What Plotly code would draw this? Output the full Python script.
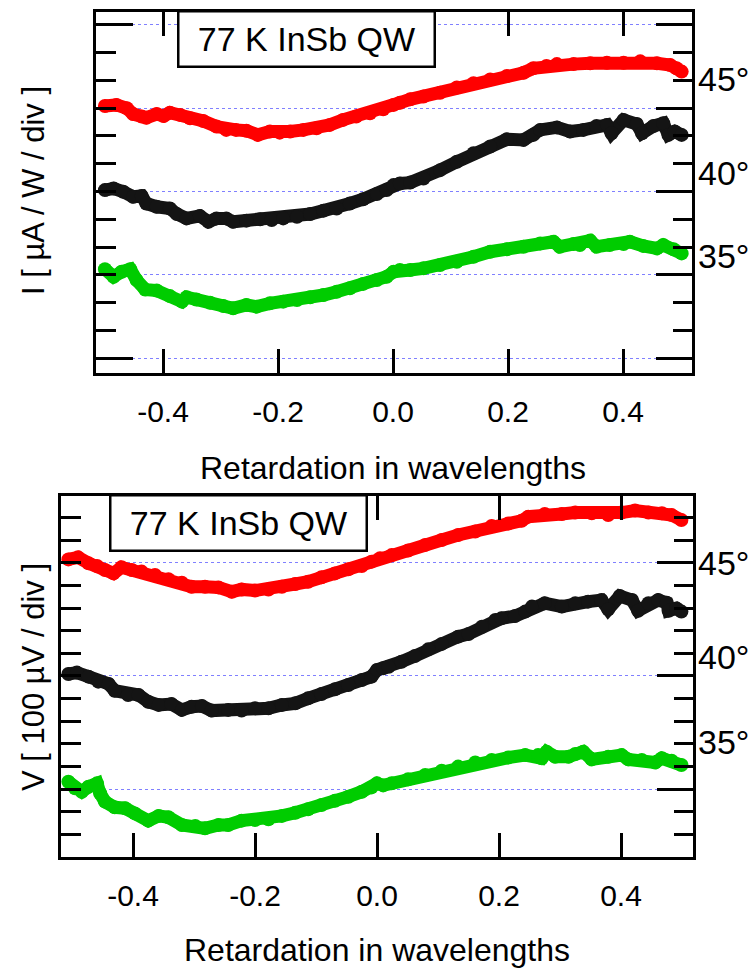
import plotly.graph_objects as go

# ---------------- data: retardation (wavelengths) vs signal (divisions) ----------------
# upper panel: photocurrent, I [uA / W / div]
i45_x = [-0.501, -0.481, -0.463, -0.452, -0.437, -0.429, -0.411, -0.399, -0.388, -0.370,
         -0.353, -0.330, -0.307, -0.290, -0.273, -0.255, -0.235, -0.214, -0.197, -0.179,
         -0.156, -0.133, -0.110, -0.087, -0.064, -0.040, -0.017, 0.001, 0.012, 0.030,
         0.053, 0.082, 0.111, 0.140, 0.169, 0.198, 0.227, 0.244, 0.267, 0.285,
         0.314, 0.343, 0.372, 0.401, 0.430, 0.459, 0.482, 0.493, 0.502]
i45_y = [9.08, 9.12, 9.00, 8.79, 8.70, 8.66, 8.79, 8.72, 8.84, 8.76,
         8.64, 8.54, 8.34, 8.22, 8.22, 8.19, 8.04, 8.16, 8.12, 8.16,
         8.22, 8.28, 8.40, 8.58, 8.70, 8.82, 8.96, 9.12, 9.20, 9.32,
         9.42, 9.56, 9.75, 9.90, 10.04, 10.16, 10.28, 10.44, 10.52, 10.59,
         10.59, 10.62, 10.64, 10.64, 10.69, 10.62, 10.56, 10.44, 10.32]

i40_x = [-0.501, -0.486, -0.469, -0.452, -0.437, -0.429, -0.411, -0.388, -0.376, -0.359,
         -0.336, -0.321, -0.307, -0.290, -0.278, -0.255, -0.231, -0.211, -0.191, -0.167,
         -0.144, -0.121, -0.098, -0.075, -0.052, -0.028, -0.011, 0.001, 0.012, 0.030,
         0.053, 0.082, 0.111, 0.140, 0.169, 0.198, 0.227, 0.244, 0.256, 0.285,
         0.308, 0.331, 0.354, 0.372, 0.380, 0.401, 0.424, 0.433, 0.453, 0.470,
         0.479, 0.490, 0.502]
i40_y = [6.05, 6.11, 5.99, 5.81, 5.84, 5.57, 5.45, 5.39, 5.19, 5.03,
         5.12, 4.91, 5.03, 5.03, 4.91, 4.95, 5.00, 4.97, 5.03, 5.09,
         5.19, 5.31, 5.39, 5.57, 5.72, 5.91, 6.05, 6.23, 6.29, 6.32,
         6.47, 6.77, 7.07, 7.38, 7.62, 7.88, 7.86, 8.04, 8.22, 8.31,
         8.16, 8.22, 8.36, 8.40, 8.10, 8.58, 8.43, 8.10, 8.36, 8.46,
         8.04, 8.16, 8.04]

i35_x = [-0.501, -0.486, -0.472, -0.457, -0.446, -0.431, -0.411, -0.388, -0.367, -0.359,
         -0.342, -0.318, -0.295, -0.278, -0.255, -0.237, -0.214, -0.191, -0.167, -0.144,
         -0.121, -0.098, -0.075, -0.052, -0.028, -0.011, 0.001, 0.012, 0.030, 0.053,
         0.082, 0.111, 0.140, 0.169, 0.198, 0.227, 0.256, 0.279, 0.290, 0.314,
         0.325, 0.343, 0.354, 0.377, 0.401, 0.412, 0.435, 0.459, 0.470, 0.488, 0.502]
i35_y = [3.20, 2.93, 3.11, 3.20, 2.81, 2.47, 2.43, 2.23, 2.03, 2.19,
         2.11, 1.99, 1.87, 1.79, 1.91, 1.85, 1.97, 2.03, 2.09, 2.19,
         2.27, 2.39, 2.51, 2.67, 2.81, 2.93, 3.11, 3.17, 3.17, 3.23,
         3.35, 3.47, 3.65, 3.83, 3.92, 4.01, 4.13, 4.19, 4.01, 4.11,
         4.07, 4.23, 4.01, 4.07, 4.11, 4.19, 4.04, 3.95, 4.07, 3.92, 3.77]

# lower panel: photovoltage, V [100 uV / div]
v45_x = [-0.506, -0.490, -0.473, -0.459, -0.446, -0.432, -0.419, -0.402, -0.386, -0.364,
         -0.342, -0.320, -0.304, -0.282, -0.260, -0.238, -0.222, -0.200, -0.178, -0.156,
         -0.134, -0.113, -0.091, -0.069, -0.047, -0.025, -0.009, 0.005, 0.024, 0.051,
         0.079, 0.106, 0.133, 0.161, 0.188, 0.215, 0.237, 0.248, 0.275, 0.303,
         0.325, 0.352, 0.379, 0.401, 0.423, 0.445, 0.467, 0.483, 0.499]
v45_y = [10.16, 10.25, 9.99, 9.87, 9.69, 9.54, 9.81, 9.69, 9.62, 9.47,
         9.28, 9.13, 8.95, 8.95, 8.92, 8.73, 8.83, 8.78, 8.83, 8.95,
         9.07, 9.17, 9.37, 9.54, 9.72, 9.87, 10.06, 10.21, 10.35, 10.55,
         10.80, 11.02, 11.24, 11.39, 11.64, 11.75, 11.87, 12.05, 12.17, 12.17,
         12.23, 12.20, 12.12, 12.23, 12.32, 12.23, 12.20, 12.12, 11.90]

v40_x = [-0.506, -0.492, -0.473, -0.457, -0.440, -0.430, -0.408, -0.391, -0.375, -0.358,
         -0.337, -0.320, -0.304, -0.287, -0.271, -0.244, -0.222, -0.200, -0.178, -0.156,
         -0.134, -0.113, -0.091, -0.069, -0.047, -0.025, -0.009, 0.000, 0.010, 0.019,
         0.040, 0.062, 0.084, 0.106, 0.133, 0.150, 0.172, 0.194, 0.204, 0.226,
         0.243, 0.254, 0.275, 0.303, 0.325, 0.346, 0.368, 0.379, 0.398, 0.418,
         0.428, 0.445, 0.461, 0.475, 0.478, 0.491, 0.499]
v40_y = [5.09, 5.15, 4.97, 4.75, 4.65, 4.35, 4.16, 4.16, 3.86, 3.72,
         3.76, 3.50, 3.64, 3.67, 3.47, 3.50, 3.47, 3.57, 3.57, 3.72,
         3.79, 4.01, 4.20, 4.41, 4.60, 4.82, 4.97, 5.27, 5.34, 5.41,
         5.63, 5.88, 6.18, 6.42, 6.74, 6.86, 7.18, 7.48, 7.55, 7.65,
         7.85, 8.07, 8.22, 8.07, 8.22, 8.29, 8.36, 7.95, 8.54, 8.36,
         7.89, 8.22, 8.36, 8.24, 7.89, 7.99, 7.85]

v35_x = [-0.506, -0.495, -0.484, -0.473, -0.459, -0.454, -0.446, -0.430, -0.413, -0.397,
         -0.375, -0.358, -0.342, -0.320, -0.298, -0.282, -0.260, -0.244, -0.222, -0.200,
         -0.178, -0.156, -0.134, -0.113, -0.091, -0.069, -0.047, -0.025, -0.009, 0.000,
         0.010, 0.024, 0.051, 0.079, 0.106, 0.133, 0.161, 0.188, 0.215, 0.243,
         0.264, 0.270, 0.278, 0.292, 0.314, 0.325, 0.338, 0.352, 0.379, 0.401,
         0.412, 0.434, 0.456, 0.467, 0.483, 0.499]
v35_y = [0.32, 0.03, -0.12, 0.10, 0.25, -0.19, -0.56, -0.81, -0.85, -1.08,
         -1.40, -1.19, -1.25, -1.59, -1.64, -1.74, -1.59, -1.59, -1.40, -1.37,
         -1.34, -1.19, -1.05, -0.90, -0.71, -0.52, -0.34, -0.12, 0.07, 0.25,
         0.16, 0.25, 0.43, 0.62, 0.81, 0.99, 1.17, 1.28, 1.39, 1.50,
         1.50, 1.36, 1.65, 1.43, 1.43, 1.55, 1.65, 1.31, 1.43, 1.50,
         1.31, 1.28, 1.17, 1.36, 1.25, 1.06]

x_tickvals = [-0.4, -0.2, 0.0, 0.2, 0.4]
x_ticktext = ["-0.4", "-0.2", "0.0", "0.2", "0.4"]
angle_labels = ["45°", "40°", "35°"]
series_colors = ["#ff0000", "#141414", "#00cc00"]

# label heights (in panel units) for the angle markers on the right
angle_pos_top = [10.05, 6.68, 3.66]
angle_pos_bottom = [10.02, 5.86, 2.10]

FONT = "Liberation Sans, Arial, Helvetica, sans-serif"
W, H = 750, 972
GRID = "#8080ff"


def px_x(p):
    return p / W


def px_y(p):
    return 1 - p / H


fig = go.Figure()

top_series = [(i45_x, i45_y), (i40_x, i40_y), (i35_x, i35_y)]
bottom_series = [(v45_x, v45_y), (v40_x, v40_y), (v35_x, v35_y)]

for (xs, ys), col in zip(top_series, series_colors):
    fig.add_trace(go.Scatter(x=xs, y=ys, mode="lines+markers", xaxis="x", yaxis="y",
                             line=dict(color=col, width=13),
                             marker=dict(color=col, size=14), showlegend=False,
                             hoverinfo="skip"))
for (xs, ys), col in zip(bottom_series, series_colors):
    fig.add_trace(go.Scatter(x=xs, y=ys, mode="lines+markers", xaxis="x2", yaxis="y3",
                             line=dict(color=col, width=13),
                             marker=dict(color=col, size=14), showlegend=False,
                             hoverinfo="skip"))

# panel geometry (inner edges, px)
top_dom_x = [px_x(95.5), px_x(692)]
top_dom_y = [px_y(372.8), px_y(11.5)]
bot_dom_x = [px_x(60.5), px_x(692.5)]
bot_dom_y = [px_y(856.8), px_y(495.8)]
top_yrange = [-0.533, 12.486]
bot_yrange = [-3.0, 12.973]

xcommon = dict(tickmode="array", tickvals=x_tickvals, ticktext=x_ticktext,
               ticks="inside", ticklen=24, tickwidth=3, tickcolor="black",
               showline=True, linewidth=3, linecolor="black", mirror="ticks",
               showgrid=False, zeroline=False, automargin=False,
               tickfont=dict(family=FONT, size=30, color="black"),
               ticklabelstandoff=10)

ycommon = dict(showline=True, linewidth=3, linecolor="black", zeroline=False,
               showticklabels=False, automargin=False, ticks="inside",
               tickwidth=3, tickcolor="black")


def minor_ticks(vals, length):
    return dict(tickmode="array", tickvals=vals, ticks="inside", ticklen=length,
                tickwidth=3, tickcolor="black", showgrid=False)


grid_style = dict(showgrid=True, gridcolor=GRID, gridwidth=1, griddash="3px,3px")

fig.update_layout(
    width=W, height=H, autosize=False,
    margin=dict(l=0, r=0, t=0, b=0),
    paper_bgcolor="white", plot_bgcolor="white",
    showlegend=False,
    # upper panel
    xaxis=dict(domain=top_dom_x, range=[-0.5174, 0.5200], anchor="y", **xcommon),
    yaxis=dict(domain=top_dom_y, range=top_yrange, anchor="x", side="left",
               tickmode="array", tickvals=[0, 3, 6, 9, 12], ticklen=20,
               minor=minor_ticks([1, 2, 4, 5, 7, 8, 10, 11], 20),
               **grid_style, **ycommon),
    yaxis2=dict(overlaying="y", anchor="x", side="right", range=top_yrange,
                tickmode="array", tickvals=[0, 3, 6, 9, 12], ticklen=36,
                showgrid=False,
                minor=minor_ticks([1, 2, 4, 5, 7, 8, 10, 11], 19),
                **ycommon),
    yaxis5=dict(overlaying="y", anchor="x", side="left", range=top_yrange,
                tickmode="array", tickvals=[0, 12], ticklen=37, showgrid=False,
                **ycommon),
    # lower panel
    xaxis2=dict(domain=bot_dom_x, range=[-0.5189, 0.5172], anchor="y3", **xcommon),
    yaxis3=dict(domain=bot_dom_y, range=bot_yrange, anchor="x2", side="left",
                tickmode="array", tickvals=[0, 5, 10], ticklen=20,
                minor=minor_ticks([-2, -1, 1, 2, 3, 4, 6, 7, 8, 9, 11, 12], 20),
                **grid_style, **ycommon),
    yaxis4=dict(overlaying="y3", anchor="x2", side="right", range=bot_yrange,
                tickmode="array", tickvals=[0, 5, 10], ticklen=36, showgrid=False,
                minor=minor_ticks([-2, -1, 1, 2, 3, 4, 6, 7, 8, 9, 11, 12], 19),
                **ycommon),
)

# empty traces so the overlay axes are rendered
fig.add_trace(go.Scatter(x=[None], y=[None], xaxis="x", yaxis="y2", showlegend=False))
fig.add_trace(go.Scatter(x=[None], y=[None], xaxis="x", yaxis="y5", showlegend=False))
fig.add_trace(go.Scatter(x=[None], y=[None], xaxis="x2", yaxis="y4", showlegend=False))

ann = []
# sample label boxes
for cx, cy in [(306, 38.5), (238.5, 523)]:
    ann.append(dict(text="77 K InSb QW", xref="paper", yref="paper",
                    x=px_x(cx), y=px_y(cy), xanchor="center", yanchor="middle",
                    showarrow=False, font=dict(family=FONT, size=34, color="black"),
                    bgcolor="white", bordercolor="black", borderwidth=2.5,
                    borderpad=0, width=254, height=53))
# x-axis titles
for cy, xr in [(468, "x"), (950, "x2")]:
    ann.append(dict(text="Retardation in wavelengths", xref=xr, yref="paper",
                    x=0, y=px_y(cy), xanchor="center", yanchor="middle",
                    showarrow=False, font=dict(family=FONT, size=32, color="black")))
# y-axis titles
for txt, cy in [("I [ µA / W / div ]", 191), ("V [ 100 µV / div ]", 677)]:
    ann.append(dict(text=txt, xref="paper", yref="paper", x=px_x(33), y=px_y(cy),
                    xanchor="center", yanchor="middle", textangle=-90,
                    showarrow=False, font=dict(family=FONT, size=31, color="black")))
# angle labels next to each curve
for yref, positions in [("y", angle_pos_top), ("y3", angle_pos_bottom)]:
    for lab, yv in zip(angle_labels, positions):
        ann.append(dict(text=lab, xref="paper", yref=yref, x=px_x(696), y=yv,
                        xanchor="left", yanchor="middle", showarrow=False,
                        font=dict(family=FONT, size=34, color="black")))

fig.update_layout(annotations=ann)

fig.write_html("out.html")
